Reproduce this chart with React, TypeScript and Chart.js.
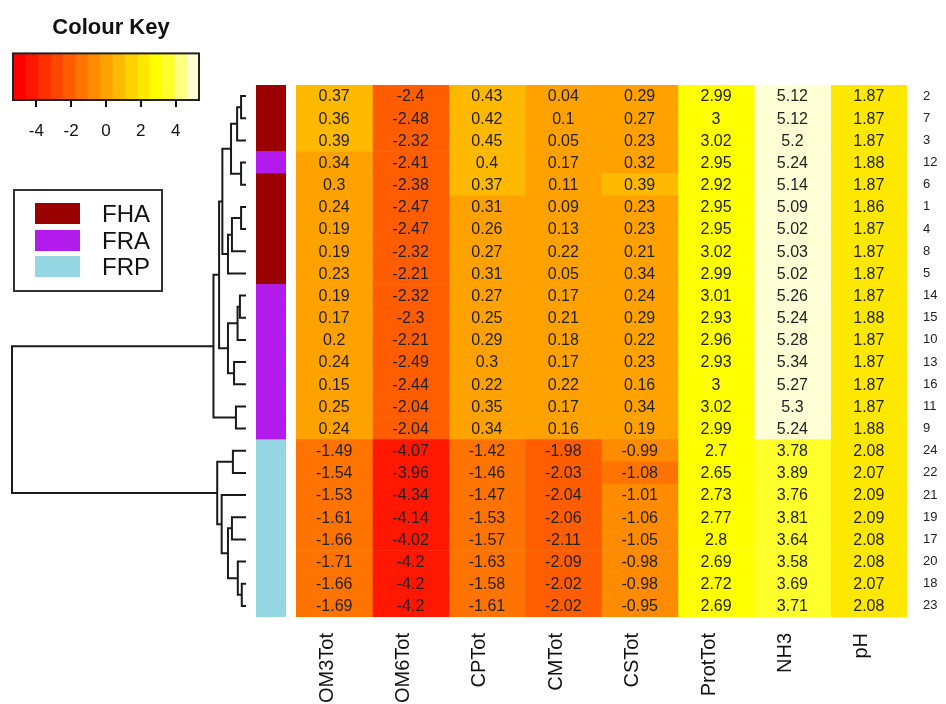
import React, { useEffect, useRef } from "react";
import { Chart, registerables } from "chart.js";

Chart.register(...registerables);

const FONT = "'Liberation Sans', Arial, Helvetica, sans-serif";

// ---------- data ----------
const COLUMNS = ["OM3Tot", "OM6Tot", "CPTot", "CMTot", "CSTot", "ProtTot", "NH3", "pH"];
const ROW_LABELS = ["2", "7", "3", "12", "6", "1", "4", "8", "5", "14", "15", "10", "13", "16", "11", "9", "24", "22", "21", "19", "17", "20", "18", "23"];
const ROW_GROUPS = ["FHA", "FHA", "FHA", "FRA", "FHA", "FHA", "FHA", "FHA", "FHA", "FRA", "FRA", "FRA", "FRA", "FRA", "FRA", "FRA", "FRP", "FRP", "FRP", "FRP", "FRP", "FRP", "FRP", "FRP"];

const OM3TOT = [0.37, 0.36, 0.39, 0.34, 0.3, 0.24, 0.19, 0.19, 0.23, 0.19, 0.17, 0.2, 0.24, 0.15, 0.25, 0.24, -1.49, -1.54, -1.53, -1.61, -1.66, -1.71, -1.66, -1.69];
const OM6TOT = [-2.4, -2.48, -2.32, -2.41, -2.38, -2.47, -2.47, -2.32, -2.21, -2.32, -2.3, -2.21, -2.49, -2.44, -2.04, -2.04, -4.07, -3.96, -4.34, -4.14, -4.02, -4.2, -4.2, -4.2];
const CPTOT = [0.43, 0.42, 0.45, 0.4, 0.37, 0.31, 0.26, 0.27, 0.31, 0.27, 0.25, 0.29, 0.3, 0.22, 0.35, 0.34, -1.42, -1.46, -1.47, -1.53, -1.57, -1.63, -1.58, -1.61];
const CMTOT = [0.04, 0.1, 0.05, 0.17, 0.11, 0.09, 0.13, 0.22, 0.05, 0.17, 0.21, 0.18, 0.17, 0.22, 0.17, 0.16, -1.98, -2.03, -2.04, -2.06, -2.11, -2.09, -2.02, -2.02];
const CSTOT = [0.29, 0.27, 0.23, 0.32, 0.39, 0.23, 0.23, 0.21, 0.34, 0.24, 0.29, 0.22, 0.23, 0.16, 0.34, 0.19, -0.99, -1.08, -1.01, -1.06, -1.05, -0.98, -0.98, -0.95];
const PROTTOT = [2.99, 3, 3.02, 2.95, 2.92, 2.95, 2.95, 3.02, 2.99, 3.01, 2.93, 2.96, 2.93, 3, 3.02, 2.99, 2.7, 2.65, 2.73, 2.77, 2.8, 2.69, 2.72, 2.69];
const NH3 = [5.12, 5.12, 5.2, 5.24, 5.14, 5.09, 5.02, 5.03, 5.02, 5.26, 5.24, 5.28, 5.34, 5.27, 5.3, 5.24, 3.78, 3.89, 3.76, 3.81, 3.64, 3.58, 3.69, 3.71];
const PH = [1.87, 1.87, 1.87, 1.88, 1.87, 1.86, 1.87, 1.87, 1.87, 1.87, 1.88, 1.87, 1.87, 1.87, 1.87, 1.88, 2.08, 2.07, 2.09, 2.09, 2.08, 2.08, 2.07, 2.08];
const VALUES = [OM3TOT, OM6TOT, CPTOT, CMTOT, CSTOT, PROTTOT, NH3, PH];

// colour key (heat.colors(15)) and its range
const HEAT = ["#FF0000", "#FF1700", "#FF2E00", "#FF4600", "#FF5D00", "#FF7400", "#FF8B00", "#FFA200", "#FFB900", "#FFD100", "#FFE800", "#FFFF00", "#FFFF2B", "#FFFF80", "#FFFFD5"];
const KEY_MIN = -5.34;
const KEY_MAX = 5.34;
const KEY_TICKS = [-4, -2, 0, 2, 4];

const GROUP_NAMES = ["FHA", "FRA", "FRP"];
const GROUP_COLORS = ["#9A0000", "#B31AEC", "#94D6E2"];

// dendrogram merges: [left, right, height]; "rN" = leaf row N, "mN" = merge N
const MERGES: [string, string, number][] = [
  ["r0", "r1", 2.1],
  ["m0", "r2", 3.8],
  ["r3", "r4", 2.1],
  ["m1", "m2", 6.4],
  ["r5", "r6", 2.1],
  ["m4", "r7", 6.0],
  ["m5", "r8", 7.7],
  ["m3", "m6", 10.1],
  ["r9", "r10", 2.6],
  ["m8", "r11", 3.6],
  ["r12", "r13", 5.1],
  ["m9", "m10", 7.7],
  ["m7", "m11", 11.5],
  ["r14", "r15", 4.3],
  ["m12", "m13", 13.9],
  ["r16", "r17", 5.6],
  ["r19", "r20", 6.0],
  ["r22", "r23", 1.8],
  ["r21", "m17", 3.5],
  ["m16", "m18", 7.7],
  ["r18", "m19", 10.4],
  ["m15", "m20", 12.3],
  ["m14", "m21", 100],
];

// ---------- helpers ----------
const BREAKS = HEAT.map((_, k) => KEY_MIN + (k * (KEY_MAX - KEY_MIN)) / HEAT.length).concat([KEY_MAX]);
function heatColor(v: number) {
  let k = Math.floor(((v - KEY_MIN) / (KEY_MAX - KEY_MIN)) * HEAT.length);
  k = Math.max(0, Math.min(HEAT.length - 1, k));
  return HEAT[k];
}

function useChart(make: (c: HTMLCanvasElement) => Chart) {
  const ref = useRef<HTMLCanvasElement | null>(null);
  useEffect(() => {
    if (!ref.current) return;
    const ch = make(ref.current);
    return () => ch.destroy();
  }, []);
  return ref;
}

Chart.defaults.font.family = FONT;

// ---------- charts ----------
function ColourKey() {
  const ref = useChart((c) =>
    new Chart(c, {
      type: "bar",
      data: {
        labels: [""],
        datasets: HEAT.map((col, k) => ({
          data: [[BREAKS[k], BREAKS[k + 1]]] as any,
          backgroundColor: col,
          borderWidth: 0,
          grouped: false,
          barPercentage: 1,
          categoryPercentage: 1,
        })),
      },
      options: {
        indexAxis: "y",
        responsive: false,
        animation: false,
        events: [],
        layout: { padding: { left: 13, right: 16, top: 0, bottom: 0 } },
        plugins: {
          legend: { display: false },
          tooltip: { enabled: false },
          title: {
            display: true,
            text: "Colour Key",
            color: "#111",
            font: { size: 22, weight: "bold" },
            padding: { top: 15, bottom: 12 },
          },
        },
        scales: {
          x: {
            type: "linear",
            min: KEY_MIN,
            max: KEY_MAX,
            afterBuildTicks: (s: any) => {
              s.ticks = KEY_TICKS.map((v) => ({ value: v }));
            },
            afterFit: (s: any) => {
              s.height = 42;
              s.paddingLeft = 0;
              s.paddingRight = 0;
            },
            grid: { drawOnChartArea: false, drawTicks: true, tickLength: 7, color: "#111", lineWidth: 2 },
            border: { display: false },
            ticks: { padding: 14, color: "#111", font: { size: 17 }, callback: (v: any) => String(v) },
          },
          y: {
            position: "right",
            afterFit: (s: any) => {
              s.width = 10;
              s.paddingTop = 0;
              s.paddingBottom = 0;
            },
            grid: { display: false, drawTicks: false },
            border: { display: false },
            ticks: { display: false },
          },
        },
      },
      plugins: [
        {
          id: "keybox",
          afterDraw(chart: any) {
            const { ctx, chartArea: a } = chart;
            ctx.save();
            ctx.strokeStyle = "#222";
            ctx.lineWidth = 2;
            ctx.strokeRect(a.left, a.top, a.right - a.left, a.bottom - a.top);
            ctx.restore();
          },
        },
      ],
    } as any)
  );
  return <canvas ref={ref} width={225} height={142} style={{ position: "absolute", left: 0, top: 0 }} />;
}

function Dendrogram() {
  const ref = useChart((c) => {
    const pos: Record<string, { x: number; y: number }> = {};
    ROW_LABELS.forEach((_, i) => (pos["r" + i] = { x: 0, y: i }));
    const datasets = MERGES.map(([a, b, h], m) => {
      const pa = pos[a];
      const pb = pos[b];
      pos["m" + m] = { x: h, y: (pa.y + pb.y) / 2 };
      return {
        data: [
          { x: pa.x, y: pa.y },
          { x: h, y: pa.y },
          { x: h, y: pb.y },
          { x: pb.x, y: pb.y },
        ],
        showLine: true,
        borderColor: "#1a1a1a",
        borderWidth: 2,
        pointRadius: 0,
        tension: 0,
        clip: false as any,
        borderJoinStyle: "miter" as any,
      };
    });
    return new Chart(c, {
      type: "scatter",
      data: { datasets },
      options: {
        responsive: false,
        animation: false,
        events: [],
        layout: { padding: { left: 12, right: 4, top: 0, bottom: 0 } },
        plugins: { legend: { display: false }, tooltip: { enabled: false } },
        scales: {
          x: { type: "linear", reverse: true, min: 0, max: 100, display: false },
          y: { type: "linear", reverse: true, min: -0.5, max: ROW_LABELS.length - 0.5, display: false },
        },
      },
    } as any);
  });
  return <canvas ref={ref} width={250} height={532} style={{ position: "absolute", left: 0, top: 85 }} />;
}

function SideBar() {
  const ref = useChart(
    (c) =>
      new Chart(c, {
        type: "bar",
        data: {
          labels: ROW_LABELS,
          datasets: [
            {
              data: ROW_LABELS.map(() => [0, 1]) as any,
              backgroundColor: ROW_GROUPS.map((g) => GROUP_COLORS[GROUP_NAMES.indexOf(g)]),
              borderWidth: 0,
              barPercentage: 1,
              categoryPercentage: 1,
            },
          ],
        },
        options: {
          indexAxis: "y",
          responsive: false,
          animation: false,
          events: [],
          layout: { padding: 0 },
          plugins: { legend: { display: false }, tooltip: { enabled: false } },
          scales: {
            x: { type: "linear", min: 0, max: 1, display: false },
            y: { display: false },
          },
        },
      } as any)
  );
  return <canvas ref={ref} width={30} height={532} style={{ position: "absolute", left: 256, top: 85 }} />;
}

function HeatMap() {
  const ref = useChart(
    (c) =>
      new Chart(c, {
        type: "bar",
        data: {
          labels: ROW_LABELS,
          datasets: COLUMNS.map((name, j) => ({
            label: name,
            data: ROW_LABELS.map(() => [j, j + 1]) as any,
            backgroundColor: VALUES[j].map(heatColor),
            borderWidth: 0,
            grouped: false,
            barPercentage: 1,
            categoryPercentage: 1,
          })),
        },
        options: {
          indexAxis: "y",
          responsive: false,
          animation: false,
          events: [],
          layout: { padding: 0 },
          plugins: { legend: { display: false }, tooltip: { enabled: false } },
          scales: {
            x: {
              type: "linear",
              position: "bottom",
              min: 0,
              max: COLUMNS.length,
              afterBuildTicks: (s: any) => {
                s.ticks = COLUMNS.map((_, j) => ({ value: j + 0.5 }));
              },
              afterFit: (s: any) => {
                s.height = 87;
                s.paddingLeft = 0;
                s.paddingRight = 0;
              },
              grid: { display: false, drawTicks: false },
              border: { display: false },
              ticks: {
                autoSkip: false,
                minRotation: 90,
                maxRotation: 90,
                padding: 16,
                labelOffset: -7,
                color: "#111",
                font: { size: 20 },
                callback: (_v: any, i: number) => COLUMNS[i],
              },
            },
            y: {
              type: "category",
              position: "right",
              afterFit: (s: any) => {
                s.width = 39;
                s.paddingTop = 0;
                s.paddingBottom = 0;
              },
              grid: { display: false, drawTicks: false },
              border: { display: false },
              ticks: { autoSkip: false, padding: 16, color: "#222", font: { size: 13 } },
            },
          },
        },
        plugins: [
          {
            id: "cellText",
            afterDatasetsDraw(chart: any) {
              const { ctx, scales } = chart;
              ctx.save();
              ctx.font = `16px ${FONT}`;
              ctx.textAlign = "center";
              ctx.textBaseline = "middle";
              ctx.fillStyle = "#222";
              VALUES.forEach((col, j) =>
                col.forEach((v, i) => {
                  ctx.fillText(String(v), scales.x.getPixelForValue(j + 0.5), scales.y.getPixelForValue(i) + 1);
                })
              );
              ctx.restore();
            },
          },
        ],
      } as any)
  );
  return <canvas ref={ref} width={650} height={619} style={{ position: "absolute", left: 296, top: 85 }} />;
}

function Legend() {
  return (
    <div
      style={{
        position: "absolute",
        left: 13,
        top: 189,
        width: 150,
        height: 103,
        border: "2px solid #333",
        boxSizing: "border-box",
        fontFamily: FONT,
      }}
    >
      {GROUP_NAMES.map((g, k) => (
        <div key={g}>
          <div
            style={{
              position: "absolute",
              left: 20,
              top: 12 + k * 26.6,
              width: 45,
              height: 21,
              background: GROUP_COLORS[k],
            }}
          />
          <div
            style={{
              position: "absolute",
              left: 87,
              top: 9 + k * 26.6,
              fontSize: 24,
              lineHeight: "27px",
              color: "#111",
            }}
          >
            {g}
          </div>
        </div>
      ))}
    </div>
  );
}

export default function App() {
  return (
    <div
      style={{
        position: "absolute",
        left: 0,
        top: 0,
        width: 946,
        height: 704,
        overflow: "hidden",
        background: "#fff",
      }}
    >
      <ColourKey />
      <Dendrogram />
      <SideBar />
      <HeatMap />
      <Legend />
    </div>
  );
}
